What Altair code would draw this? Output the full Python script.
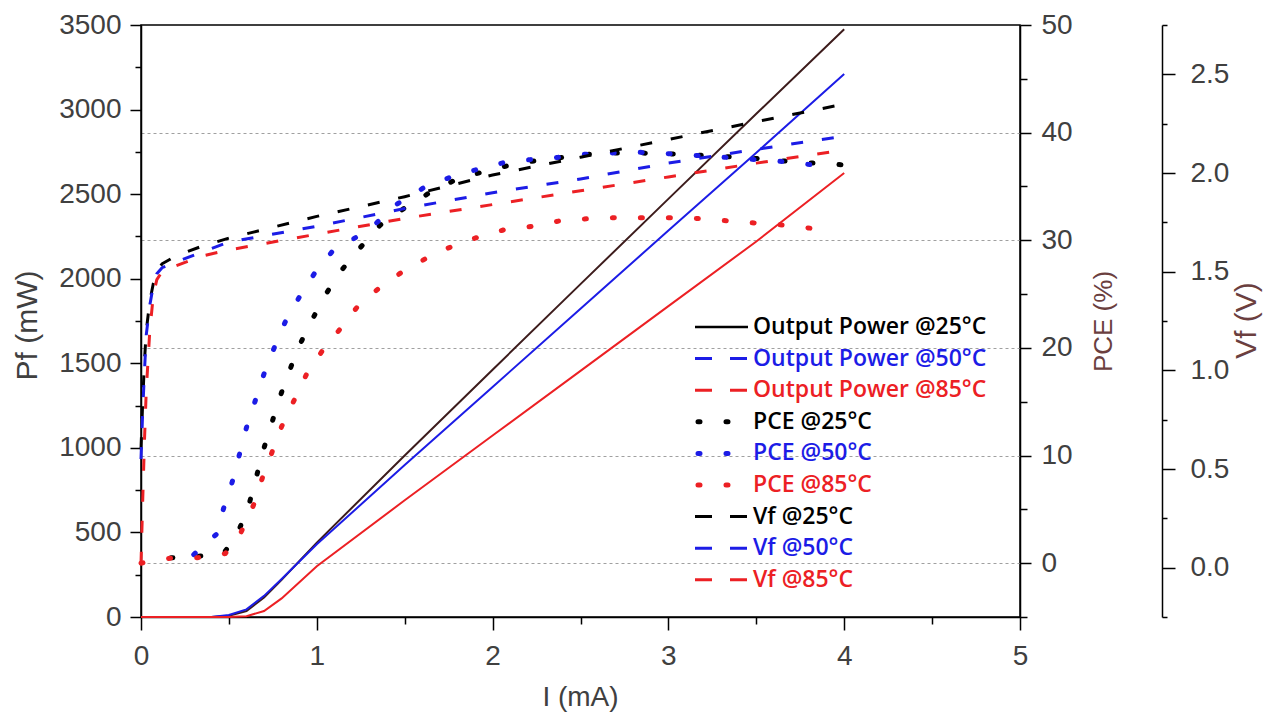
import altair as alt
import pandas as pd

# ---------------- data ----------------
# Output power Pf (mW) vs current I (mA)
I_pf = [0, 0.4, 0.5, 0.6, 0.7, 0.8, 1.0, 1.5, 2.0, 2.5, 3.0, 3.5, 4.0]
pf_25 = [0, 0, 8, 35, 115, 220, 440, 955, 1462, 1968, 2472, 2975, 3475]
pf_50 = [0, 0, 12, 45, 125, 225, 430, 898, 1360, 1822, 2285, 2745, 3210]
pf_85 = [0, 0, 0, 5, 35, 110, 300, 690, 1073, 1455, 1838, 2220, 2625]

# PCE (%) vs I (mA)
I_pce_25 = [0.17, 0.3, 0.47, 0.55, 0.61, 0.65, 0.69, 0.74, 0.785, 0.84, 0.90, 0.97, 1.04,
            1.13, 1.23, 1.36, 1.5, 1.65, 1.8, 2.0, 2.16, 2.4, 2.6, 2.86, 3.07, 3.3, 3.5, 3.7, 4.0]
pce_25 = [0.5, 0.6, 0.9, 2.8, 5.2, 7.6, 10.2, 12.8, 15.2, 17.7, 20.2, 22.5, 24.7,
          27.0, 29.0, 31.4, 33.0, 34.5, 35.7, 36.6, 37.2, 37.7, 38.1, 38.1, 38.0, 37.8, 37.6, 37.3, 37.0]
I_pce_50 = [0.3, 0.43, 0.47, 0.52, 0.56, 0.60, 0.65, 0.70, 0.76, 0.82, 0.90, 0.99, 1.09,
            1.3, 1.45, 1.62, 1.8, 2.06, 2.22, 2.37, 2.53, 2.8, 3.05, 3.33, 3.66, 3.82]
pce_50 = [0.8, 2.7, 5.1, 7.6, 10.1, 12.6, 15.1, 17.6, 20.1, 22.4, 24.7, 27.0, 29.0,
          31.0, 33.3, 35.0, 36.1, 37.2, 37.5, 37.7, 38.0, 38.2, 38.0, 37.7, 37.3, 37.0]
I_pce_85 = [0.0, 0.165, 0.32, 0.48, 0.57, 0.64, 0.69, 0.745, 0.80, 0.87, 0.94, 1.03, 1.13,
            1.23, 1.35, 1.48, 1.62, 1.75, 1.9, 2.07, 2.23, 2.38, 2.54, 2.71, 2.87, 3.03,
            3.19, 3.34, 3.5, 3.66, 3.82]
pce_85 = [0.0, 0.45, 0.5, 0.9, 2.9, 5.4, 7.9, 10.3, 12.7, 15.1, 17.5, 19.7, 21.7,
          23.8, 25.5, 27.0, 28.3, 29.3, 30.2, 31.0, 31.3, 31.8, 32.0, 32.1, 32.1, 32.1,
          32.0, 31.8, 31.6, 31.4, 31.1]

# Forward voltage Vf (V) vs I (mA)
I_vf = [0, 0.01, 0.02, 0.03, 0.05, 0.07, 0.09, 0.12, 0.2, 0.35, 0.5, 1.0, 1.5, 2.0, 2.5, 3.0, 3.5, 3.95]
vf_25 = [0.60, 0.85, 1.05, 1.20, 1.35, 1.44, 1.50, 1.54, 1.58, 1.63, 1.67, 1.78, 1.88, 1.99, 2.08, 2.17, 2.26, 2.34]
vf_50 = [0.55, 0.80, 1.00, 1.18, 1.33, 1.43, 1.49, 1.52, 1.55, 1.60, 1.65, 1.73, 1.82, 1.90, 1.97, 2.05, 2.12, 2.18]
vf_85 = [0.02, 0.35, 0.65, 0.90, 1.20, 1.38, 1.46, 1.50, 1.53, 1.58, 1.61, 1.69, 1.77, 1.84, 1.91, 1.98, 2.05, 2.11]

# Legend
legend_labels = ["Output Power @25°C", "Output Power @50°C", "Output Power @85°C",
                 "PCE @25°C", "PCE @50°C", "PCE @85°C",
                 "Vf @25°C", "Vf @50°C", "Vf @85°C"]
legend_kinds = ["solid", "dash", "dash", "dot", "dot", "dot", "dash", "dash", "dash"]

x_ticks = [0, 1, 2, 3, 4, 5]
x_minor = [0.5, 1.5, 2.5, 3.5, 4.5]
pf_ticks = [0, 500, 1000, 1500, 2000, 2500, 3000, 3500]
pf_minor = [250, 750, 1250, 1750, 2250, 2750, 3250]
pce_ticks = [0, 10, 20, 30, 40, 50]
pce_minor = [-5, 5, 15, 25, 35, 45]
pce_grid = [0, 10, 20, 30, 40]
vf_ticks = [0.0, 0.5, 1.0, 1.5, 2.0, 2.5]
vf_minor = [-0.25, 0.25, 0.75, 1.25, 1.75, 2.25, 2.75]

# ---------------- styling ----------------
BLACK = "#000000"
BROWN = "#3d1c1c"
BLUE = "#1c1ce6"
RED = "#ec2024"
legend_colors = [BLACK, BLUE, RED, BLACK, BLUE, RED, BLACK, BLUE, RED]

W, H = 879, 592


def frame(xs, ys, name, color):
    return pd.DataFrame({"I": xs, "v": ys, "series": name, "color": color})


pf_df = pd.concat([frame(I_pf, pf_25, "pf25", BROWN),
                   frame(I_pf, pf_50, "pf50", BLUE),
                   frame(I_pf, pf_85, "pf85", RED)])
pce_df = pd.concat([frame(I_pce_25, pce_25, "pce25", BLACK),
                    frame(I_pce_50, pce_50, "pce50", BLUE),
                    frame(I_pce_85, pce_85, "pce85", RED)])
vf_df = pd.concat([frame(I_vf, vf_25, "vf25", BLACK),
                   frame(I_vf, vf_50, "vf50", BLUE),
                   frame(I_vf, vf_85, "vf85", RED)])
dummy = pd.DataFrame({"I": [0.0], "v": [0.0]})

x_scale = alt.Scale(domain=[0, 5], nice=False, zero=False)
pf_scale = alt.Scale(domain=[0, 3500], nice=False, zero=False)
pce_scale = alt.Scale(domain=[-5, 50], nice=False, zero=False)
vf_scale = alt.Scale(domain=[-0.25, 2.75], nice=False, zero=False)

common = dict(domainColor="black", domainWidth=1.5, tickColor="black", tickWidth=1.5,
              labelFont="Liberation Sans", labelFontSize=28, labelColor="#404040",
              grid=False, labelFlush=False, labelOverlap=False,
              titleFont="Liberation Sans", titleFontWeight="normal")
minor = dict(domain=False, labels=False, tickColor="black", tickWidth=1.5, grid=False, title=None)

# main x axis + Pf axis
pf_layer = alt.Chart(pf_df).mark_line(strokeWidth=2).encode(
    x=alt.X("I:Q", scale=x_scale,
            axis=alt.Axis(orient="bottom", values=x_ticks, format="d", tickSize=13, labelPadding=12,
                          title="I (mA)", titleFontSize=28, titleColor="#404040",
                          titleX=439, titleY=80, titleAngle=0, titleAlign="center",
                          titleBaseline="middle", **common)),
    y=alt.Y("v:Q", scale=pf_scale,
            axis=alt.Axis(orient="left", values=pf_ticks, format="d", tickSize=11, labelPadding=9,
                          title="Pf (mW)", titleFontSize=30, titleColor="#404040",
                          titleAngle=270, titleX=-114, titleY=300, titleAlign="center",
                          titleBaseline="middle", **common)),
    color=alt.Color("color:N", scale=None),
    detail="series:N",
)

pf_minor_layer = alt.Chart(dummy).mark_point(opacity=0).encode(
    x=alt.X("I:Q", scale=x_scale, axis=alt.Axis(orient="bottom", values=x_minor, tickSize=7, **minor)),
    y=alt.Y("v:Q", scale=pf_scale, axis=alt.Axis(orient="left", values=pf_minor, tickSize=6, **minor)),
)

pce_grid_layer = alt.Chart(dummy).mark_point(opacity=0).encode(
    x=alt.X("I:Q", scale=x_scale, axis=None),
    y=alt.Y("v:Q", scale=pce_scale,
            axis=alt.Axis(orient="right", values=pce_grid, grid=True, gridColor="#a0a0a0",
                          gridDash=[3, 3], gridWidth=1, domain=False, ticks=False,
                          labels=False, title=None)),
)

pce_layer = alt.Chart(pce_df).mark_line(strokeWidth=5, strokeDash=[2, 26], strokeCap="round").encode(
    x=alt.X("I:Q", scale=x_scale, axis=None),
    y=alt.Y("v:Q", scale=pce_scale,
            axis=alt.Axis(orient="right", values=pce_ticks, format="d", tickSize=11, labelPadding=10,
                          title="PCE (%)", titleFontSize=26, titleColor="#6b3f3f",
                          titleAngle=270, titleX=83, titleY=296, titleAlign="center",
                          titleBaseline="middle", **common)),
    color=alt.Color("color:N", scale=None),
    detail="series:N",
)

pce_minor_layer = alt.Chart(dummy).mark_point(opacity=0).encode(
    x=alt.X("I:Q", scale=x_scale, axis=None),
    y=alt.Y("v:Q", scale=pce_scale, axis=alt.Axis(orient="right", values=pce_minor, tickSize=7, **minor)),
)

vf_layer = alt.Chart(vf_df).mark_line(strokeWidth=3, strokeDash=[12, 19]).encode(
    x=alt.X("I:Q", scale=x_scale, axis=None),
    y=alt.Y("v:Q", scale=vf_scale,
            axis=alt.Axis(orient="right", offset=142, values=vf_ticks, format=".1f",
                          tickSize=13, labelPadding=15,
                          title="Vf (V)", titleFontSize=30, titleColor="#6b3f3f",
                          titleAngle=270, titleX=84, titleY=295, titleAlign="center",
                          titleBaseline="middle", **common)),
    color=alt.Color("color:N", scale=None),
    detail="series:N",
)

vf_minor_layer = alt.Chart(dummy).mark_point(opacity=0).encode(
    x=alt.X("I:Q", scale=x_scale, axis=None),
    y=alt.Y("v:Q", scale=vf_scale, axis=alt.Axis(orient="right", offset=142, values=vf_minor, tickSize=5, **minor)),
)

# ---------------- legend (layout in pixels of the plot area) ----------------
LEG_TOP, LEG_STEP = 302, 31.6
rows = []
for i, (lab, col, kind) in enumerate(zip(legend_labels, legend_colors, legend_kinds)):
    if kind == "dot":
        x0, x1 = 557, 590
    else:
        x0, x1 = 554, 607
    rows.append({"label": lab, "color": col, "kind": kind, "ty": LEG_TOP + i * LEG_STEP,
                 "tx": 612, "x0": x0, "x1": x1})
leg_df = pd.DataFrame(rows)


def leg_sym(kind, **mark):
    return alt.Chart(leg_df[leg_df["kind"] == kind]).mark_rule(**mark).encode(
        x=alt.X("x0:Q", scale=None, axis=None),
        x2="x1:Q",
        y=alt.Y("ty:Q", scale=None, axis=None),
        color=alt.Color("color:N", scale=None),
    )


leg_solid = leg_sym("solid", strokeWidth=2.5)
leg_dash = leg_sym("dash", strokeWidth=3, strokeDash=[17, 18])
leg_dot = leg_sym("dot", strokeWidth=5, strokeDash=[2, 26], strokeCap="round")
leg_text = alt.Chart(leg_df).mark_text(align="left", baseline="middle", font="Open Sans",
                                       fontSize=23, fontWeight=600).encode(
    x=alt.X("tx:Q", scale=None, axis=None),
    y=alt.Y("ty:Q", scale=None, axis=None),
    text="label:N",
    color=alt.Color("color:N", scale=None),
)

chart = alt.layer(
    pce_grid_layer, pf_minor_layer, pce_minor_layer, vf_minor_layer,
    pf_layer, pce_layer, vf_layer,
    leg_solid, leg_dash, leg_dot, leg_text,
).resolve_scale(y="independent").resolve_axis(x="independent").properties(
    width=W, height=H,
    autosize=alt.AutoSizeParams(type="none"),
    padding={"left": 133, "top": 17, "right": 250, "bottom": 95},
    background="white",
).configure_view(stroke="black", strokeWidth=1.5)

chart.save("out.html", embed_options={"renderer": "svg", "actions": False})
